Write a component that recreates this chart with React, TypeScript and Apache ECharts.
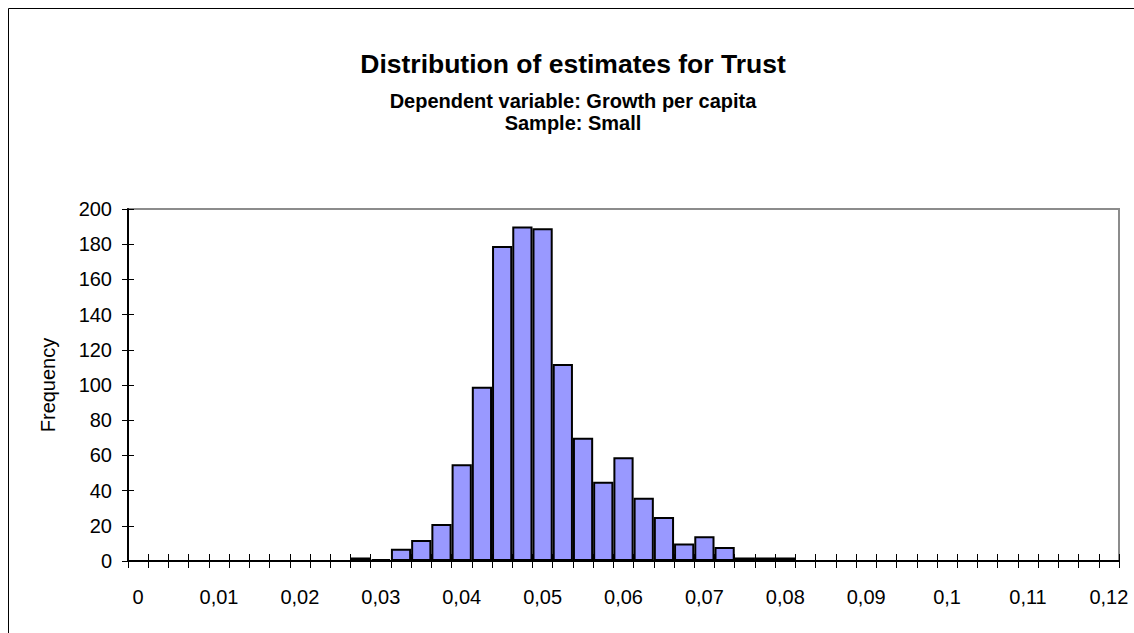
import React, { useEffect, useRef } from "react";
import * as echarts from "echarts";

// Bin starts (category axis), Excel-style comma decimals
const binLabels = [
  "0", "0,0025", "0,005", "0,0075", "0,01", "0,0125", "0,015", "0,0175",
  "0,02", "0,0225", "0,025", "0,0275", "0,03", "0,0325", "0,035", "0,0375",
  "0,04", "0,0425", "0,045", "0,0475", "0,05", "0,0525", "0,055", "0,0575",
  "0,06", "0,0625", "0,065", "0,0675", "0,07", "0,0725", "0,075", "0,0775",
  "0,08", "0,0825", "0,085", "0,0875", "0,09", "0,0925", "0,095", "0,0975",
  "0,1", "0,1025", "0,105", "0,1075", "0,11", "0,1125", "0,115", "0,1175",
  "0,12",
];

// Frequency per bin
const frequencies = [
  0, 0, 0, 0, 0, 0, 0, 0,
  0, 0, 0, 2, 1, 7, 12, 21,
  55, 99, 179, 190, 189, 112, 70, 45,
  59, 36, 25, 10, 14, 8, 2, 2,
  2, 0, 0, 0, 0, 0, 0, 0,
  0, 0, 0, 0, 0, 0, 0, 0,
  0,
];

const titleText = "Distribution of estimates for Trust";
const subtitleLines = ["Dependent variable: Growth per capita", "Sample: Small"];
const yAxisName = "Frequency";

export default function App() {
  const ref = useRef<HTMLDivElement>(null);

  useEffect(() => {
    document.body.style.margin = "0";
    const chart = echarts.init(ref.current!, null, { renderer: "svg" });
    const font = "'Liberation Sans', Arial, sans-serif";

    chart.setOption({
      animation: false,
      backgroundColor: "#ffffff",
      textStyle: { fontFamily: font, color: "#000" },
      graphic: [
        {
          type: "rect",
          silent: true,
          z: 0,
          shape: { x: 8.5, y: 8.5, width: 1200, height: 700 },
          style: { fill: "none", stroke: "#000", lineWidth: 1 },
        },
        {
          type: "text",
          x: 573,
          y: 64,
          style: {
            text: titleText,
            font: `bold 26.5px ${font}`,
            fill: "#000",
            textAlign: "center",
            textVerticalAlign: "middle",
          },
        },
        {
          type: "text",
          x: 573,
          y: 101,
          style: {
            text: subtitleLines[0],
            font: `bold 20px ${font}`,
            lineHeight: 20,
            fill: "#000",
            textAlign: "center",
            textVerticalAlign: "middle",
          },
        },
        {
          type: "text",
          x: 573,
          y: 122.5,
          style: {
            text: subtitleLines[1],
            font: `bold 20px ${font}`,
            lineHeight: 20,
            fill: "#000",
            textAlign: "center",
            textVerticalAlign: "middle",
          },
        },
      ],
      grid: {
        left: 128,
        right: 15,
        top: 209,
        bottom: 72,
        show: true,
        borderColor: "#8c8c8c",
        borderWidth: 2,
        backgroundColor: "transparent",
      },
      xAxis: [
        {
          type: "category",
          data: binLabels,
          boundaryGap: true,
          axisLine: { show: true, lineStyle: { color: "#000", width: 2 } },
          axisTick: {
            show: true,
            interval: 0,
            inside: false,
            length: 7,
            lineStyle: { color: "#000", width: 1 },
          },
          axisLabel: {
            interval: 3,
            fontSize: 20,
            color: "#000",
            margin: 26,
            fontFamily: font,
          },
          splitLine: { show: false },
        },
        {
          type: "category",
          data: binLabels,
          boundaryGap: true,
          position: "bottom",
          axisLine: { show: false },
          axisTick: {
            show: true,
            interval: 0,
            inside: true,
            length: 7,
            lineStyle: { color: "#000", width: 1 },
          },
          axisLabel: { show: false },
          splitLine: { show: false },
        },
      ],
      yAxis: [
        {
          type: "value",
          min: 0,
          max: 200,
          interval: 20,
          position: "left",
          axisLine: { show: true, lineStyle: { color: "#000", width: 2 } },
          axisTick: { show: true, length: 6, lineStyle: { color: "#000", width: 1 } },
          axisLabel: { fontSize: 20, color: "#000", margin: 16, fontFamily: font },
          splitLine: { show: false },
          name: yAxisName,
          nameLocation: "middle",
          nameGap: 70,
          nameTextStyle: { fontSize: 20, color: "#000", fontFamily: font },
        },
        {
          type: "value",
          min: 0,
          max: 200,
          interval: 20,
          position: "left",
          axisLine: { show: false },
          axisTick: {
            show: true,
            inside: true,
            length: 6,
            lineStyle: { color: "#000", width: 1 },
          },
          axisLabel: { show: false },
          splitLine: { show: false },
        },
      ],
      series: [
        {
          type: "bar",
          xAxisIndex: 0,
          yAxisIndex: 0,
          data: frequencies.map((v) => (v === 0 ? "-" : v)),
          barWidth: "100%",
          itemStyle: { color: "#9999ff", borderColor: "#000", borderWidth: 2 },
        },
      ],
    });

    return () => chart.dispose();
  }, []);

  return (
    <div
      ref={ref}
      style={{ width: 1134, height: 633, overflow: "hidden", background: "#fff" }}
    />
  );
}
